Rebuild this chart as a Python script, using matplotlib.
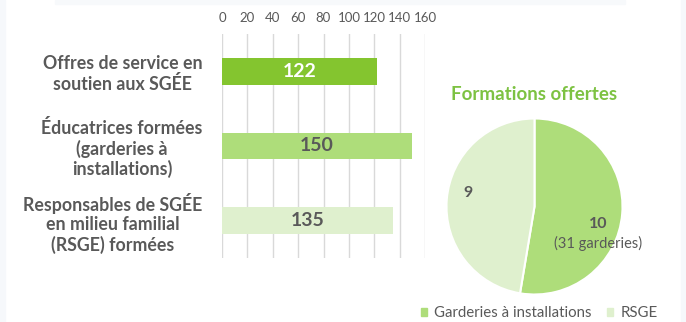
import matplotlib
matplotlib.use("Agg")
import matplotlib.pyplot as plt
from matplotlib.patches import Rectangle

plt.rcParams['font.family'] = ['Lato', 'DejaVu Sans']

# Bar chart data
categories = ["Offres de service en\nsoutien aux SGÉE",
              "Éducatrices formées\n(garderies à\ninstallations)",
              "Responsables de SGÉE\nen milieu familial\n(RSGE) formées"]
values = [122, 150, 135]
bar_colors = ["#84C52F", "#AEDD7A", "#DFF0CE"]
value_colors = ["white", "#595959", "#595959"]
x_ticks = [0, 20, 40, 60, 80, 100, 120, 140, 160]

# Pie chart data
pie_labels = ["Garderies à installations", "RSGE"]
pie_values = [10, 9]
pie_notes = ["(31 garderies)", ""]
pie_colors = ["#AEDD7A", "#DFF0CE"]

gray = "#595959"
fig = plt.figure(figsize=(6.86, 3.22), dpi=100)

# faint card edges in the background
fig.patches.append(Rectangle((55/686, 1-4/322), 570/686, 4/322, transform=fig.transFigure,
                             color="#F7F9FB", zorder=0))
fig.patches.append(Rectangle((0, 0), 5/686, 1, transform=fig.transFigure,
                             color="#F6F8FB", zorder=0))
fig.patches.append(Rectangle((681/686, 0), 5/686, 1, transform=fig.transFigure,
                             color="#F6F8FB", zorder=0))

# horizontal bars
ax = fig.add_axes([222/686, 1-258/322, 203/686, 224/322])
ypos = list(range(len(values)))
ax.barh(ypos, values, height=0.36, color=bar_colors, zorder=2)
ax.set_xlim(0, 160)
ax.set_ylim(len(values)-0.5, -0.5)
ax.set_xticks(x_ticks)
ax.xaxis.tick_top()
ax.tick_params(axis='x', length=0, pad=7, labelsize=9.5, labelcolor=gray)
ax.set_yticks(ypos)
ax.set_yticklabels(categories, fontsize=12.8, fontweight='bold', color=gray)
for t in ax.get_yticklabels():
    t.set_multialignment('center')
    t.set_linespacing(1.15)
ax.tick_params(axis='y', length=0, pad=14)
ax.grid(axis='x', color="#D9D9D9", linewidth=1, zorder=0)
for s in ax.spines.values():
    s.set_visible(False)
for y, v, c in zip(ypos, values, value_colors):
    ax.text(v/2, y, str(v), ha='center', va='center', fontsize=14,
            fontweight='bold', color=c, zorder=3)

# pie
fig.text(534.5/686, 1-95/322, "Formations offertes", ha='center', va='center',
         fontsize=13.5, fontweight='bold', color="#7DC242")
pax = fig.add_axes([446.5/686, 1-294.5/322, 176/686, 176/322])
wedges, _ = pax.pie(pie_values, colors=pie_colors, startangle=90, counterclock=False,
                    wedgeprops=dict(edgecolor='white', linewidth=1.5))
pax.set_xlim(-1, 1)
pax.set_ylim(-1, 1)
pax.text(0.72, -0.2, str(pie_values[0]), ha='center', va='center', fontsize=11.5,
         fontweight='bold', color=gray)
pax.text(0.72, -0.42, pie_notes[0], ha='center', va='center', fontsize=10.5, color=gray)
pax.text(-0.756, 0.153, str(pie_values[1]), ha='center', va='center', fontsize=11.5,
         fontweight='bold', color=gray)

# legend
handles = [Rectangle((0, 0), 1, 1, color=c) for c in pie_colors]
fig.legend(handles, pie_labels, loc='center', bbox_to_anchor=(539/686, 1-313/322),
           ncol=2, frameon=False, fontsize=10.8, labelcolor=gray, handlelength=0.45,
           handleheight=0.45, handletextpad=0.45, columnspacing=1.0)

fig.savefig("out.png", dpi=100)
